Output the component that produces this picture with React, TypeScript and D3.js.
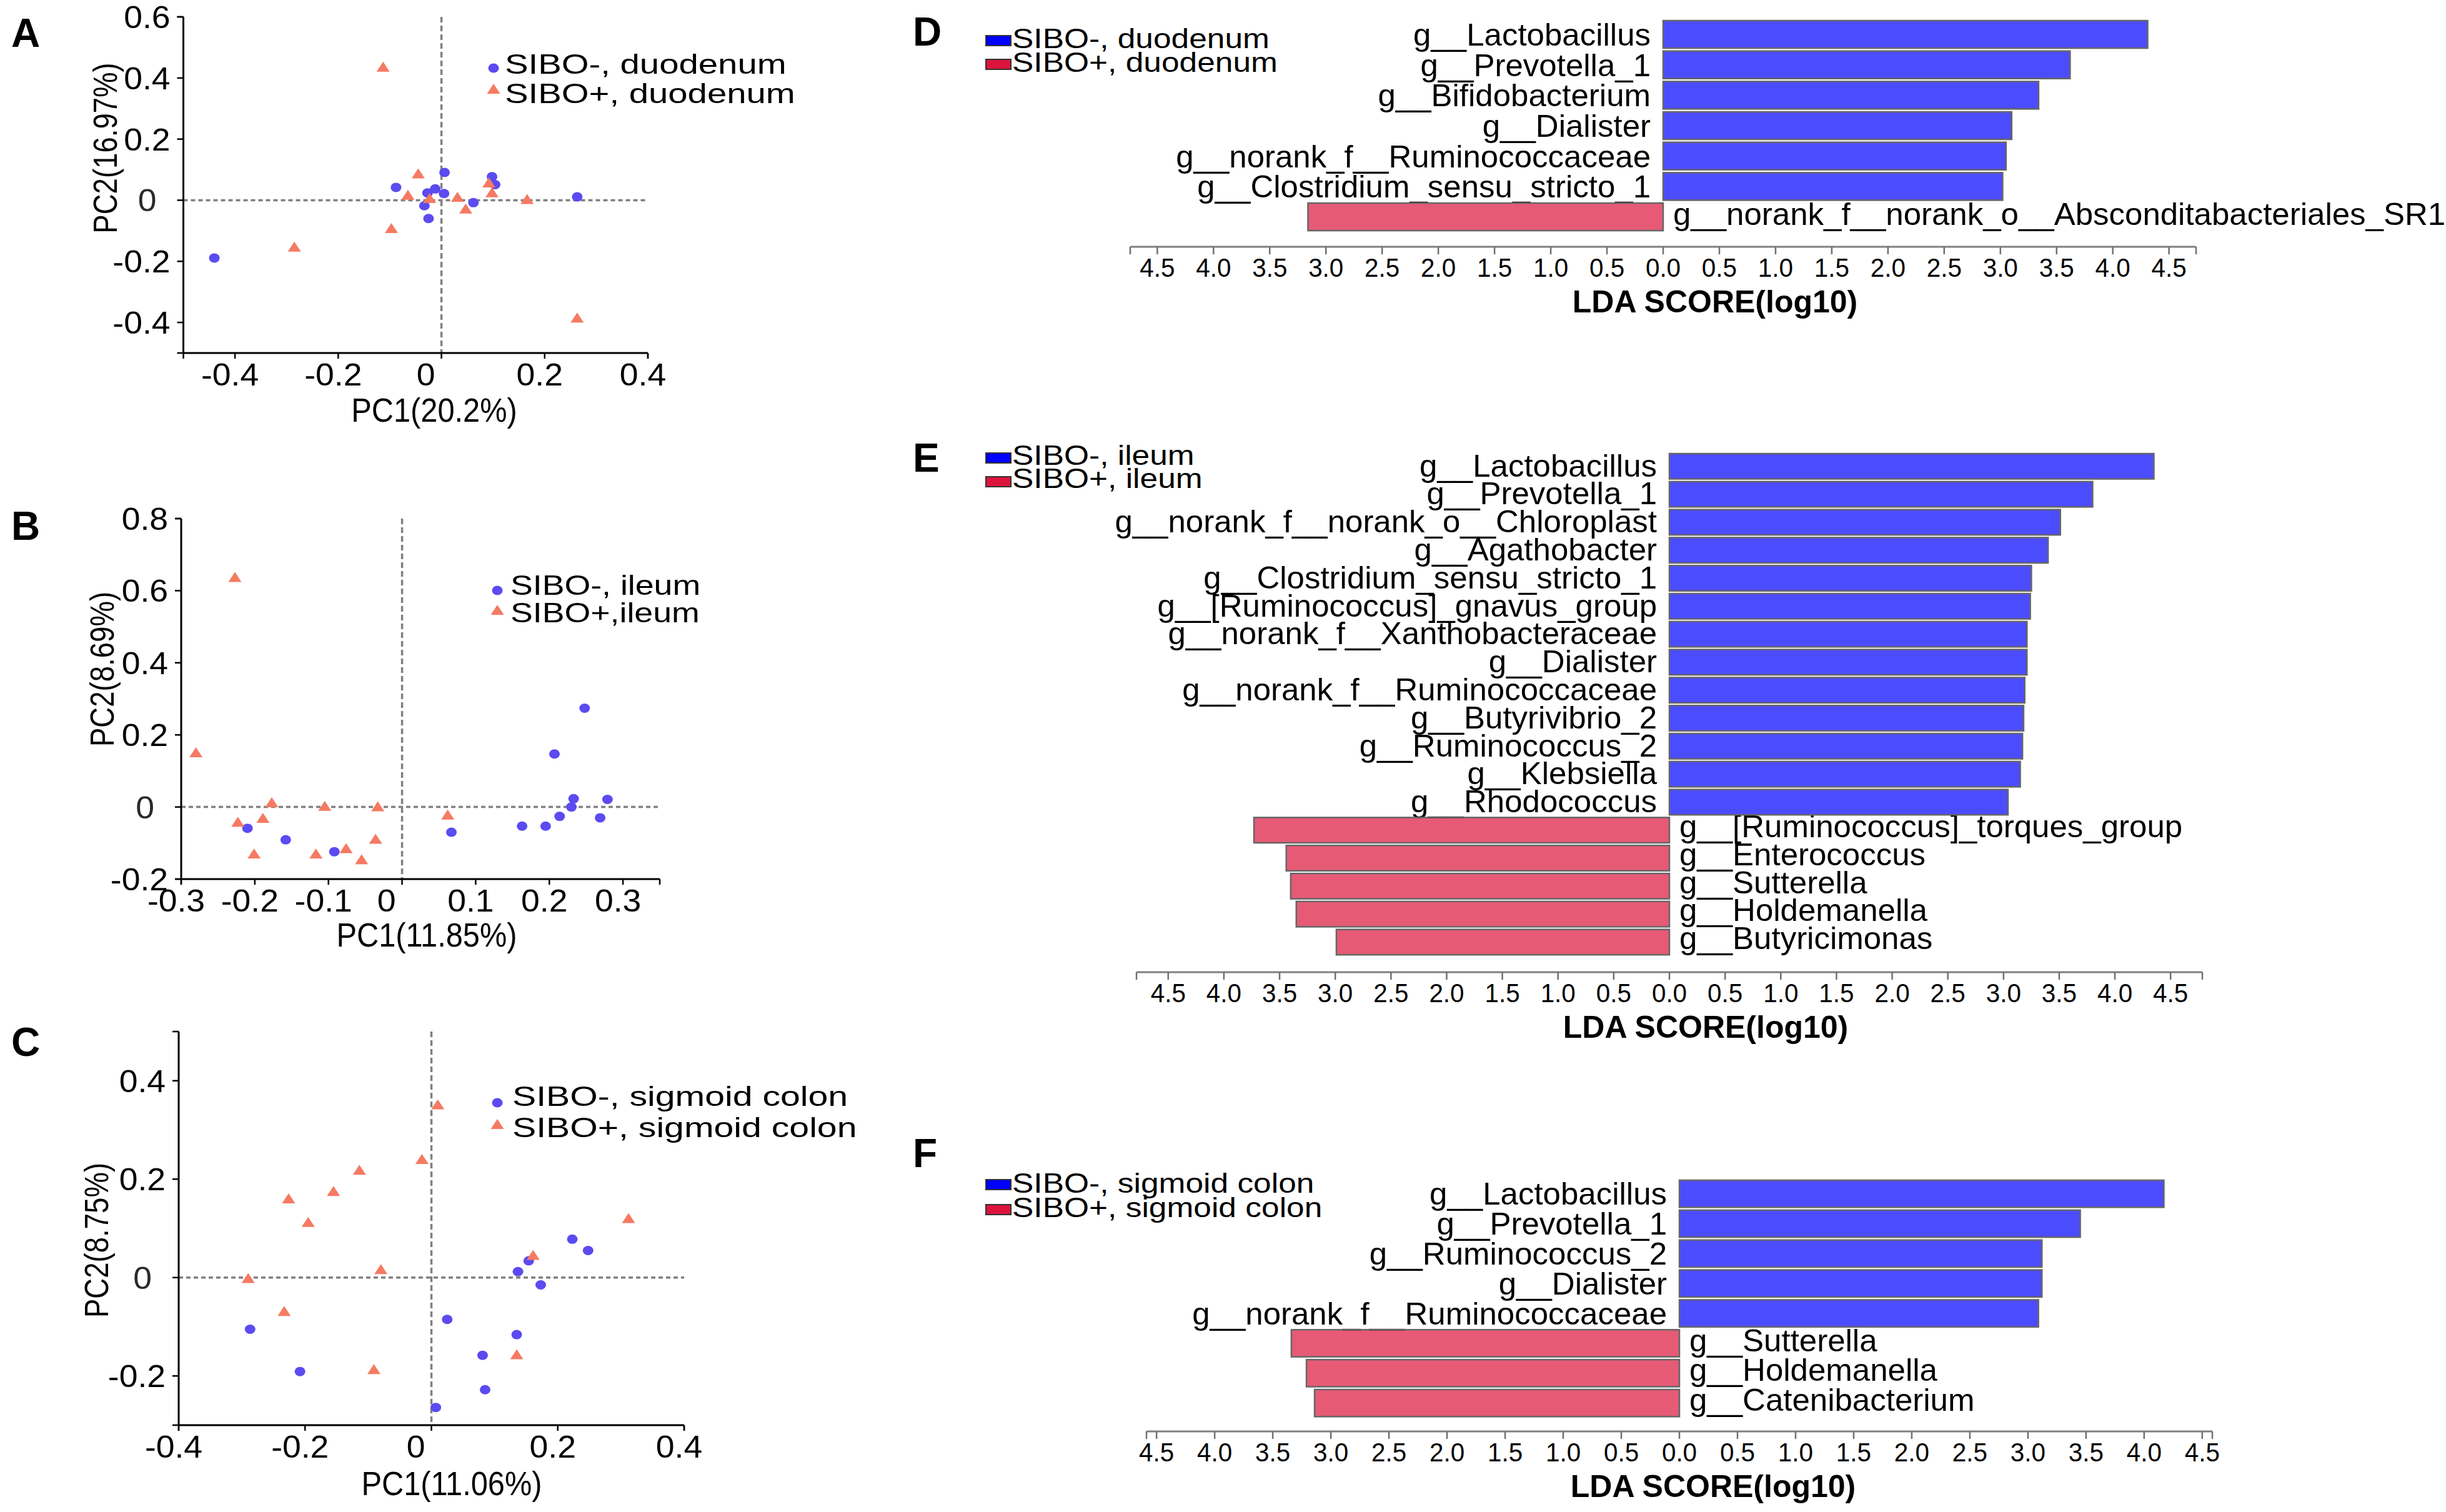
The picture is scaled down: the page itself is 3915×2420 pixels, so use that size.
import * as d3 from 'd3';

type Pt = [number, number];

const duodenumNeg: Pt[] = [
  [-0.088, 0.042], [0.006, 0.091], [-0.012, 0.037], [-0.027, 0.024], [0.005, 0.022], [-0.033, -0.018],
  [-0.025, -0.06], [0.062, -0.008], [0.098, 0.077], [0.104, 0.051], [0.263, 0.011], [-0.44, -0.189]
];
const duodenumPos: Pt[] = [
  [-0.113, 0.437], [-0.045, 0.088], [-0.065, 0.018], [-0.023, 0.007], [0.031, 0.011], [0.047, -0.027],
  [0.092, 0.058], [0.098, 0.026], [0.166, 0.004], [-0.097, -0.091], [-0.285, -0.152], [0.263, -0.384]
];
const ileumNeg: Pt[] = [
  [-0.21, -0.059], [-0.158, -0.091], [-0.092, -0.124], [0.067, -0.07], [0.163, -0.053], [0.195, -0.053],
  [0.214, -0.026], [0.23, 0.0], [0.233, 0.023], [0.269, -0.03], [0.279, 0.021], [0.207, 0.147], [0.248, 0.274]
];
const ileumPos: Pt[] = [
  [-0.227, 0.638], [-0.28, 0.152], [-0.177, 0.013], [-0.105, 0.003], [-0.033, 0.002], [-0.223, -0.041],
  [-0.189, -0.03], [0.062, -0.021], [-0.201, -0.129], [-0.117, -0.129], [-0.076, -0.114], [-0.055, -0.145], [-0.036, -0.088]
];
const colonNeg: Pt[] = [
  [-0.287, -0.105], [-0.208, -0.191], [0.007, -0.264], [0.025, -0.085], [0.081, -0.158], [0.085, -0.228],
  [0.135, -0.116], [0.137, 0.012], [0.154, 0.034], [0.173, -0.015], [0.223, 0.078], [0.248, 0.055]
];
const colonPos: Pt[] = [
  [0.01, 0.352], [-0.015, 0.241], [-0.114, 0.219], [-0.155, 0.176], [-0.226, 0.161], [-0.195, 0.113],
  [-0.08, 0.017], [-0.29, -0.001], [-0.233, -0.068], [-0.091, -0.186], [0.135, -0.156], [0.161, 0.046], [0.312, 0.121]
];

const ticksA_x = [-0.4, -0.2, 0, 0.2, 0.4];
const ticksA_y = [-0.4, -0.2, 0, 0.2, 0.4, 0.6];
const ticksB_x = [-0.3, -0.2, -0.1, 0, 0.1, 0.2, 0.3];
const ticksB_y = [-0.2, 0, 0.2, 0.4, 0.6, 0.8];
const ticksC_x = [-0.4, -0.2, 0, 0.2, 0.4];
const ticksC_y = [-0.2, 0, 0.2, 0.4];

// LEfSe LDA scores (log10); negative = enriched in SIBO+
const duodenumTaxa = [
  'g__Lactobacillus', 'g__Prevotella_1', 'g__Bifidobacterium', 'g__Dialister',
  'g__norank_f__Ruminococcaceae', 'g__Clostridium_sensu_stricto_1', 'g__norank_f__norank_o__Absconditabacteriales_SR1'
];
const duodenumLda = [4.31, 3.62, 3.34, 3.1, 3.05, 3.02, -3.16];

const ileumTaxa = [
  'g__Lactobacillus', 'g__Prevotella_1', 'g__norank_f__norank_o__Chloroplast', 'g__Agathobacter',
  'g__Clostridium_sensu_stricto_1', 'g__[Ruminococcus]_gnavus_group', 'g__norank_f__Xanthobacteraceae', 'g__Dialister',
  'g__norank_f__Ruminococcaceae', 'g__Butyrivibrio_2', 'g__Ruminococcus_2', 'g__Klebsiella', 'g__Rhodococcus',
  'g__[Ruminococcus]_torques_group', 'g__Enterococcus', 'g__Sutterella', 'g__Holdemanella', 'g__Butyricimonas'
];
const ileumLda = [4.35, 3.8, 3.51, 3.4, 3.25, 3.24, 3.21, 3.21, 3.19, 3.18, 3.17, 3.15, 3.04, -3.73, -3.44, -3.4, -3.35, -2.99];

const colonTaxa = [
  'g__Lactobacillus', 'g__Prevotella_1', 'g__Ruminococcus_2', 'g__Dialister', 'g__norank_f__Ruminococcaceae',
  'g__Sutterella', 'g__Holdemanella', 'g__Catenibacterium'
];
const colonLda = [4.17, 3.45, 3.12, 3.12, 3.09, -3.34, -3.21, -3.14];

const FONT = '"Liberation Sans", Arial, Helvetica, sans-serif';
const PT_BLUE = '#5b4bf0';
const PT_ORANGE = '#f57a62';
const BAR_BLUE = '#0000ff';
const BAR_RED = '#dc143c';

interface STextProps {
  x: number;
  y: number;
  size: number;
  sx?: number;
  anchor?: 'start' | 'middle' | 'end';
  bold?: boolean;
  rotate?: number;
  fill?: string;
  children: string;
}

// text with an optional horizontal stretch, the source figure's type is a bit wide
function SText({ x, y, size, sx = 1, anchor = 'start', bold = false, rotate = 0, fill = '#000', children }: STextProps) {
  const rot = rotate ? ` rotate(${rotate})` : '';
  return (
    <g transform={`translate(${x},${y})${rot} scale(${sx},1)`}>
      <text textAnchor={anchor} fontSize={size} fontWeight={bold ? 'bold' : 'normal'} fontFamily={FONT} fill={fill}>
        {children}
      </text>
    </g>
  );
}

const triPath = 'M0,-8L10.5,8L-10.5,8Z';

interface PcoaProps {
  neg: Pt[];
  pos: Pt[];
  xDomain: [number, number];
  yDomain: [number, number];
  xRange: [number, number];
  yRange: [number, number];
  xTicks: number[];
  yTicks: number[];
  xTitle: string;
  yTitle: string;
  xTitlePos: [number, number];
  yTitlePos: [number, number];
  legend: [string, string];
  legendMark: [number, number, number];
  legendText: [number, number, number];
  legendSx: number;
  letter: string;
  letterPos: [number, number];
}

const fmtPc = (v: number) => (Math.abs(v) < 1e-9 ? '0' : v.toFixed(1));

function PcoaPanel(p: PcoaProps) {
  const x = d3.scaleLinear().domain(p.xDomain).range(p.xRange);
  const y = d3.scaleLinear().domain(p.yDomain).range(p.yRange);
  const [x0, x1] = p.xRange;
  const [y0, y1] = p.yRange;
  const xTickMarks = [p.xDomain[0], ...p.xTicks, p.xDomain[1]];
  const yTickMarks = [p.yDomain[0], ...p.yTicks, p.yDomain[1]];

  return (
    <g>
      <SText x={p.letterPos[0]} y={p.letterPos[1]} size={64} bold>{p.letter}</SText>

      <line x1={x0} x2={x1} y1={y(0)} y2={y(0)} stroke="#808080" strokeWidth={3.5} strokeDasharray="7 5" />
      <line x1={x(0)} x2={x(0)} y1={y1} y2={y0} stroke="#808080" strokeWidth={3.5} strokeDasharray="9 5" />

      <line x1={x0} x2={x0} y1={y1} y2={y0} stroke="#000" strokeWidth={3} />
      <line x1={x0} x2={x1} y1={y0} y2={y0} stroke="#000" strokeWidth={3} />
      {xTickMarks.map((v, i) => (
        <line key={`xt${i}`} x1={x(v)} x2={x(v)} y1={y0} y2={y0 + 9} stroke="#000" strokeWidth={2.5} />
      ))}
      {yTickMarks.map((v, i) => (
        <line key={`yt${i}`} x1={x0 - 10} x2={x0} y1={y(v)} y2={y(v)} stroke="#000" strokeWidth={2.5} />
      ))}
      {p.xTicks.map((v) => (
        <SText key={`xl${v}`} x={x(v) + (v === 0 ? -25 : -8)} y={y0 + 52} size={50} sx={1.07} anchor="middle">
          {fmtPc(v)}
        </SText>
      ))}
      {p.yTicks.map((v) => (
        <SText key={`yl${v}`} x={x0 - 21 + (v === 0 ? -22 : 0)} y={y(v) + 18} size={50} sx={1.07} anchor="end" fill={v === 0 ? '#2a2a2a' : '#000'}>
          {fmtPc(v)}
        </SText>
      ))}

      <SText x={p.xTitlePos[0]} y={p.xTitlePos[1]} size={53} sx={0.92} anchor="middle">{p.xTitle}</SText>
      <SText x={p.yTitlePos[0]} y={p.yTitlePos[1]} size={53} sx={0.86} anchor="middle" rotate={-90}>{p.yTitle}</SText>

      {p.neg.map((d, i) => (
        <ellipse key={`n${i}`} cx={x(d[0])} cy={y(d[1])} rx={8.5} ry={7.5} fill={PT_BLUE} />
      ))}
      {p.pos.map((d, i) => (
        <path key={`p${i}`} d={triPath} transform={`translate(${x(d[0])},${y(d[1])})`} fill={PT_ORANGE} />
      ))}

      <ellipse cx={p.legendMark[0]} cy={p.legendMark[1]} rx={8.5} ry={7.5} fill={PT_BLUE} />
      <path d={triPath} transform={`translate(${p.legendMark[0]},${p.legendMark[2]})`} fill={PT_ORANGE} />
      <SText x={p.legendText[0]} y={p.legendText[1]} size={44} sx={p.legendSx}>{p.legend[0]}</SText>
      <SText x={p.legendText[0]} y={p.legendText[2]} size={44} sx={p.legendSx}>{p.legend[1]}</SText>
    </g>
  );
}

interface LdaProps {
  taxa: string[];
  scores: number[];
  zero: number;
  band: [number, number];
  axisY: number;
  titleX: number;
  legend: [string, string];
  legendRectY: [number, number];
  legendBase: [number, number];
  letter: string;
  letterY: number;
}

const HALF_AXIS = 853;

function LdaPanel(p: LdaProps) {
  const lim = (d3.max(p.scores, (s) => Math.abs(s)) ?? 1) * 1.1;
  const x = d3.scaleLinear().domain([-lim, lim]).range([p.zero - HALF_AXIS, p.zero + HALF_AXIS]);
  const y = d3.scaleBand<string>().domain(p.taxa).range(p.band).paddingInner(0.095).paddingOuter(0.0475);
  const ticks = d3.range(-9, 10).map((k) => k * 0.5).filter((t) => Math.abs(t) <= lim);
  const bw = y.bandwidth();

  return (
    <g>
      <SText x={1461} y={p.letterY} size={64} bold>{p.letter}</SText>

      {p.legend.map((lab, i) => (
        <g key={lab}>
          <rect x={1578} y={p.legendRectY[i]} width={40} height={16} fill={i === 0 ? BAR_BLUE : BAR_RED} stroke="#333" strokeWidth={2} />
          <SText x={1620} y={p.legendBase[i]} size={44} sx={1.17}>{lab}</SText>
        </g>
      ))}

      {/* labels first: the translucent bars sit on top of them, as in the source */}
      {p.taxa.map((t, i) => {
        const s = p.scores[i];
        const bottom = (y(t) ?? 0) + bw;
        return s > 0 ? (
          <SText key={`l${t}`} x={x(0) - 20} y={bottom - 4} size={50} sx={1.02} anchor="end">{t}</SText>
        ) : (
          <SText key={`l${t}`} x={x(0) + 16} y={bottom - 9} size={50} sx={1.02}>{t}</SText>
        );
      })}

      {p.taxa.map((t, i) => {
        const s = p.scores[i];
        return (
          <rect
            key={`b${t}`}
            x={Math.min(x(0), x(s))}
            y={y(t) ?? 0}
            width={Math.abs(x(s) - x(0))}
            height={bw}
            fill={s > 0 ? BAR_BLUE : BAR_RED}
            fillOpacity={0.7}
            stroke="#666"
            strokeWidth={2.5}
          />
        );
      })}

      <line x1={x(-lim)} x2={x(lim)} y1={p.axisY} y2={p.axisY} stroke="#808080" strokeWidth={3} />
      {[-lim, ...ticks, lim].map((t, i) => (
        <line key={`t${i}`} x1={x(t)} x2={x(t)} y1={p.axisY} y2={p.axisY + 12} stroke="#707070" strokeWidth={2.5} />
      ))}
      {ticks.map((t) => (
        <SText key={`tl${t}`} x={x(t)} y={p.axisY + 48} size={43} sx={0.94} anchor="middle">
          {Math.abs(t).toFixed(1)}
        </SText>
      ))}
      <SText x={p.titleX} y={p.axisY + 105} size={50} bold anchor="middle">LDA SCORE(log10)</SText>
    </g>
  );
}

export default function App() {
  return (
    <svg
      width={3915}
      height={2420}
      viewBox="0 0 3915 2420"
      style={{ position: 'absolute', left: 0, top: 0, background: '#fff' }}
    >
      <rect width={3915} height={2420} fill="#fff" />

      <PcoaPanel
        neg={duodenumNeg}
        pos={duodenumPos}
        xDomain={[-0.5, 0.4]}
        yDomain={[-0.5, 0.6]}
        xRange={[293.5, 1037]}
        yRange={[565, 27]}
        xTicks={ticksA_x}
        yTicks={ticksA_y}
        xTitle="PC1(20.2%)"
        yTitle="PC2(16.97%)"
        xTitlePos={[695, 675]}
        yTitlePos={[187, 237]}
        legend={['SIBO-, duodenum', 'SIBO+, duodenum']}
        legendMark={[790, 109, 142]}
        legendText={[808, 118, 165]}
        legendSx={1.28}
        letter="A"
        letterPos={[18, 75]}
      />
      <PcoaPanel
        neg={ileumNeg}
        pos={ileumPos}
        xDomain={[-0.3, 0.35]}
        yDomain={[-0.2, 0.8]}
        xRange={[290, 1056]}
        yRange={[1407, 830]}
        xTicks={ticksB_x}
        yTicks={ticksB_y}
        xTitle="PC1(11.85%)"
        yTitle="PC2(8.69%)"
        xTitlePos={[683, 1515]}
        yTitlePos={[182, 1071]}
        legend={['SIBO-, ileum', 'SIBO+,ileum']}
        legendMark={[796, 945, 976]}
        legendText={[817, 952, 996]}
        legendSx={1.22}
        letter="B"
        letterPos={[18, 864]}
      />
      <PcoaPanel
        neg={colonNeg}
        pos={colonPos}
        xDomain={[-0.4, 0.4]}
        yDomain={[-0.3, 0.5]}
        xRange={[286, 1095]}
        yRange={[2281, 1651]}
        xTicks={ticksC_x}
        yTicks={ticksC_y}
        xTitle="PC1(11.06%)"
        yTitle="PC2(8.75%)"
        xTitlePos={[723, 2393]}
        yTitlePos={[173, 1985]}
        legend={['SIBO-, sigmoid colon', 'SIBO+, sigmoid colon']}
        legendMark={[796, 1765, 1799]}
        legendText={[820, 1770, 1820]}
        legendSx={1.3}
        letter="C"
        letterPos={[18, 1690]}
      />

      <LdaPanel
        taxa={duodenumTaxa}
        scores={duodenumLda}
        zero={2662}
        band={[30.7, 371.4]}
        axisY={395}
        titleX={2745}
        legend={['SIBO-, duodenum', 'SIBO+, duodenum']}
        legendRectY={[57, 95]}
        legendBase={[77, 115]}
        letter="D"
        letterY={73}
      />
      <LdaPanel
        taxa={ileumTaxa}
        scores={ileumLda}
        zero={2672}
        band={[723.9, 1530.3]}
        axisY={1556}
        titleX={2730}
        legend={['SIBO-, ileum', 'SIBO+, ileum']}
        legendRectY={[725, 763]}
        legendBase={[744, 781]}
        letter="E"
        letterY={755}
      />
      <LdaPanel
        taxa={colonTaxa}
        scores={colonLda}
        zero={2688}
        band={[1886.7, 2269.6]}
        axisY={2291}
        titleX={2742}
        legend={['SIBO-, sigmoid colon', 'SIBO+, sigmoid colon']}
        legendRectY={[1888, 1928]}
        legendBase={[1909, 1948]}
        letter="F"
        letterY={1868}
      />
    </svg>
  );
}
